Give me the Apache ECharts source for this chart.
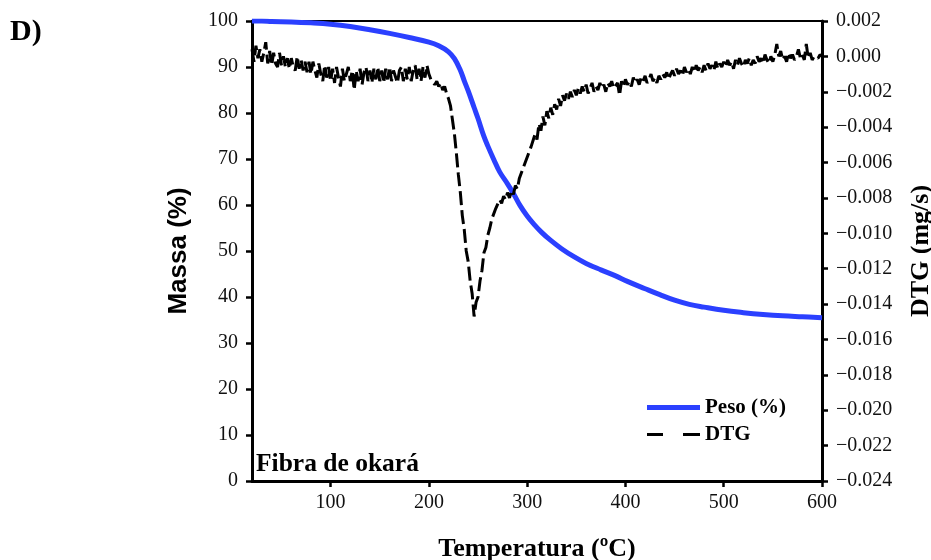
<!DOCTYPE html>
<html>
<head>
<meta charset="utf-8">
<script src="https://cdn.jsdelivr.net/npm/echarts@6/dist/echarts.min.js"></script>
<style>
html,body{margin:0;padding:0;background:#fff;}
#c{width:931px;height:560px;}
</style>
</head>
<body>
<div id="c"></div>
<script>
// ---- Data ----
const xTicks = [100, 200, 300, 400, 500, 600];

const pesoTemp = [20, 30, 40, 60, 80, 100, 120, 140, 160, 180, 200, 210, 220, 226, 232, 236, 240, 246, 250, 256, 260, 266, 272, 280, 286, 293, 300, 307, 315, 324, 335, 348, 360, 375, 390, 402, 420, 435, 450, 465, 480, 500, 520, 540, 560, 580, 600];
const pesoVal  = [100.0, 100.0, 99.9, 99.8, 99.6, 99.3, 98.8, 98.1, 97.3, 96.4, 95.4, 94.6, 93.3, 91.8, 89.3, 87.0, 84.8, 81.2, 78.8, 74.9, 72.8, 69.9, 67.2, 64.6, 62.5, 59.8, 57.6, 55.8, 54.0, 52.3, 50.5, 48.7, 47.3, 45.9, 44.6, 43.4, 41.8, 40.5, 39.3, 38.4, 37.8, 37.1, 36.6, 36.2, 35.9, 35.7, 35.5];

const dtgTemp = [
 20,22,24,26,28,30,32,34,36,38,40,42,44,46,48,50,52,54,56,58,60,62,64,66,68,70,72,74,76,78,
 80,82,84,86,88,90,92,94,96,98,100,102,104,106,108,110,112,114,116,118,120,122,124,126,128,130,132,134,136,138,
 140,142,144,146,148,150,152,154,156,158,160,162,164,166,168,170,172,174,176,178,180,182,184,186,188,190,192,194,196,198,
 200,202,204,206,208,210,212,214,216,218,220,222,224,226,228,230,232,234,236,238,240,242,244,246,248,250,252,254,256,258,
 260,262,264,266,268,270,272,274,276,278,280,282,284,286,288,290,292,294,296,298,300,302,304,306,308,310,312,314,316,318,
 320,322,324,326,328,330,332,334,336,338,340,342,344,346,348,350,352,354,356,358,360,362,364,366,368,370,372,374,376,378,
 380,382,384,386,388,390,392,394,396,398,400,402,404,406,408,410,412,414,416,418,420,422,424,426,428,430,432,434,436,438,
 440,442,444,446,448,450,452,454,456,458,460,462,464,466,468,470,472,474,476,478,480,482,484,486,488,490,492,494,496,498,
 500,502,504,506,508,510,512,514,516,518,520,522,524,526,528,530,532,534,536,538,540,542,544,546,548,550,552,554,556,558,
 560,562,564,566,568,570,572,574,576,578,580,582,584,586,588,590,592,594,596,598,600
];
const dtgVal = [
 0.0004,-0.0003,0.0006,-0.0001,0.0004,-0.0003,0.0002,0.0008,-0.0004,0.0003,-0.0005,0.0002,-0.0004,-0.0006,0.0002,-0.0005,0.0000,-0.0006,-0.0001,-0.0007,-0.0001,-0.0006,-0.0008,0.0000,-0.0007,-0.0002,-0.0008,-0.0003,-0.0009,-0.0003,
 -0.0010,-0.0003,-0.0008,-0.0012,-0.0004,-0.0010,-0.0014,-0.0005,-0.0012,-0.0006,-0.0014,-0.0007,-0.0015,-0.0006,-0.0012,-0.0017,-0.0007,-0.0014,-0.0015,-0.0006,-0.0014,-0.0008,-0.0019,-0.0008,-0.0014,-0.0007,-0.0016,-0.0009,-0.0006,-0.0014,
 -0.0008,-0.0015,-0.0007,-0.0013,-0.0006,-0.0014,-0.0008,-0.0015,-0.0007,-0.0013,-0.0006,-0.0014,-0.0008,-0.0007,-0.0015,-0.0008,-0.0006,-0.0014,-0.0007,-0.0013,-0.0006,-0.0014,-0.0008,-0.0005,-0.0013,-0.0007,-0.0014,-0.0006,-0.0012,-0.0005,
 -0.0010,-0.0013,-0.0012,-0.0016,-0.0014,-0.0017,-0.0015,-0.0019,-0.0017,-0.0021,-0.0024,-0.0028,-0.0036,-0.0044,-0.0055,-0.0067,-0.0077,-0.0090,-0.0098,-0.0110,-0.0116,-0.0127,-0.0134,-0.0147,-0.0139,-0.0136,-0.0127,-0.0121,-0.0111,-0.0108,
 -0.0101,-0.0097,-0.0092,-0.0091,-0.0086,-0.0085,-0.0081,-0.0083,-0.0079,-0.0081,-0.0077,-0.0080,-0.0076,-0.0078,-0.0073,-0.0075,-0.0069,-0.0070,-0.0063,-0.0064,-0.0057,-0.0058,-0.0051,-0.0052,-0.0044,-0.0047,-0.0038,-0.0042,-0.0034,-0.0039,
 -0.0031,-0.0035,-0.0029,-0.0033,-0.0027,-0.0030,-0.0024,-0.0028,-0.0022,-0.0025,-0.0021,-0.0024,-0.0020,-0.0023,-0.0019,-0.0022,-0.0018,-0.0021,-0.0017,-0.0020,-0.0016,-0.0021,-0.0018,-0.0015,-0.0020,-0.0017,-0.0019,-0.0015,-0.0018,-0.0016,
 -0.0020,-0.0015,-0.0017,-0.0014,-0.0018,-0.0019,-0.0015,-0.0022,-0.0014,-0.0017,-0.0013,-0.0016,-0.0014,-0.0017,-0.0012,-0.0015,-0.0013,-0.0016,-0.0012,-0.0014,-0.0011,-0.0015,-0.0013,-0.0010,-0.0014,-0.0012,-0.0015,-0.0011,-0.0013,-0.0010,
 -0.0012,-0.0009,-0.0013,-0.0010,-0.0008,-0.0011,-0.0007,-0.0010,-0.0008,-0.0011,-0.0006,-0.0009,-0.0007,-0.0010,-0.0006,-0.0009,-0.0005,-0.0008,-0.0006,-0.0009,-0.0005,-0.0008,-0.0004,-0.0007,-0.0005,-0.0008,-0.0003,-0.0007,-0.0004,-0.0006,
 -0.0003,-0.0006,-0.0002,-0.0005,-0.0003,-0.0007,-0.0002,-0.0005,-0.0001,-0.0004,-0.0006,-0.0002,-0.0004,-0.0001,-0.0005,-0.0002,-0.0004,0.0000,-0.0003,-0.0001,-0.0004,0.0001,-0.0002,-0.0004,0.0000,-0.0003,0.0001,0.0007,0.0000,0.0003,
 -0.0002,0.0000,-0.0003,0.0002,-0.0001,0.0001,-0.0002,0.0000,0.0004,-0.0001,0.0001,-0.0002,0.0007,-0.0001,0.0002,-0.0002,0.0000,0.0001,-0.0001,0.0001,0.0000
];

// ---- Chart ----
const serif = '"Liberation Serif", "Times New Roman", serif';
const sans = '"Liberation Sans", Arial, sans-serif';
const pesoData = pesoTemp.map((t, i) => [t, pesoVal[i]]);
const dtgData = dtgTemp.map((t, i) => [t, dtgVal[i]]);

const chart = echarts.init(document.getElementById('c'));
chart.setOption({
  animation: false,
  backgroundColor: '#fff',
  grid: { left: 252, right: 109, top: 21, bottom: 79, outerBoundsMode: 'none', containLabel: false,
          show: true, borderColor: '#000', borderWidth: 2, backgroundColor: 'transparent' },
  title: [
    { text: 'D)', left: 5, top: 12, textStyle: { fontFamily: serif, fontWeight: 'bold', fontSize: 30, color: '#000' } },
    { text: 'Fibra de okará', left: 251, top: 446, textStyle: { fontFamily: serif, fontWeight: 'bold', fontSize: 25.5, color: '#000' } }
  ],
  legend: {
    orient: 'vertical', left: 642, top: 392, itemWidth: 53, itemHeight: 14, itemGap: 6,
    symbolKeepAspect: true,
    textStyle: { fontFamily: serif, fontWeight: 'bold', fontSize: 21, color: '#000' },
    data: [
      { name: 'Peso (%)', icon: 'path://M0,0H53V5H0Z' },
      { name: 'DTG', icon: 'path://M0,0H16V3H0Z M36,0H53V3H36Z' }
    ]
  },
  xAxis: {
    type: 'value', min: 20, max: 600,
    name: 'Temperatura (ºC)', nameLocation: 'middle', nameGap: 55,
    nameTextStyle: { fontFamily: serif, fontWeight: 'bold', fontSize: 26, color: '#000' },
    axisLine: { show: true, lineStyle: { color: '#000', width: 3 } },
    axisTick: { show: true, customValues: xTicks, length: 6, lineStyle: { color: '#000', width: 2.5 } },
    axisLabel: { customValues: xTicks, margin: 12, fontFamily: serif, fontSize: 20, color: '#111' },
    splitLine: { show: false }
  },
  yAxis: [
    {
      type: 'value', min: 0, max: 100, interval: 10, position: 'left',
      name: 'Massa (%)', nameLocation: 'middle', nameGap: 60,
      nameTextStyle: { fontFamily: sans, fontWeight: 'bold', fontSize: 26, color: '#000' },
      axisLine: { show: true, lineStyle: { color: '#000', width: 3 } },
      axisTick: { show: true, length: 6, lineStyle: { color: '#000', width: 2.5 } },
      axisLabel: { margin: 14, fontFamily: serif, fontSize: 20, color: '#111' },
      splitLine: { show: false }
    },
    {
      type: 'value', min: -0.024, max: 0.002, interval: 0.002, position: 'right',
      name: 'DTG (mg/s)', nameLocation: 'middle', nameGap: 86,
      nameTextStyle: { fontFamily: serif, fontWeight: 'bold', fontSize: 26, color: '#000' },
      axisLine: { show: true, lineStyle: { color: '#000', width: 3 } },
      axisTick: { show: true, length: 6, lineStyle: { color: '#000', width: 2.5 } },
      axisLabel: {
        margin: 14, fontFamily: serif, fontSize: 20, color: '#111',
        formatter: v => { if (Math.abs(v) < 1e-9) return '0.000'; const s = Math.abs(v).toFixed(3); return v < 0 ? '\u2212' + s : s; }
      },
      splitLine: { show: false }
    }
  ],
  series: [
    {
      name: 'Peso (%)', type: 'line', yAxisIndex: 0, data: pesoData,
      smooth: 0.4, symbol: 'none',
      lineStyle: { color: '#2b40ff', width: 5 }, itemStyle: { color: '#2b40ff' }, z: 2
    },
    {
      name: 'DTG', type: 'line', yAxisIndex: 1, data: dtgData,
      symbol: 'none',
      lineStyle: { color: '#000', width: 3, type: [14, 5] }, itemStyle: { color: '#000' }, z: 3
    }
  ]
});
</script>
</body>
</html>
